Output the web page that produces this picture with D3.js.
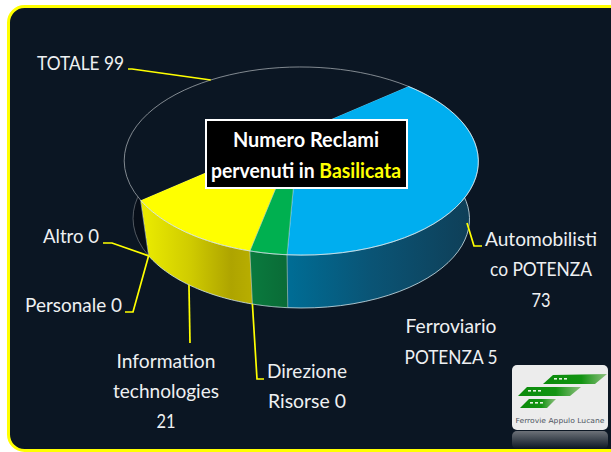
<!DOCTYPE html>
<html><head><meta charset="utf-8">
<script src="https://cdn.jsdelivr.net/npm/d3@7/dist/d3.min.js"></script>
<style>html,body{margin:0;padding:0;background:#fff;overflow:hidden}svg{display:block}text{font-family:Lato,"Open Sans",sans-serif}</style>
</head><body><svg id="c" width="611" height="452"></svg>
<script>
const categories=["Automobilistico POTENZA","Ferroviario POTENZA","Direzione Risorse","Information technologies","Personale","Altro","TOTALE"];
const values=[73,5,0,21,0,0,99];
const topColors=["#00aeef","#00b050","#00b050","#ffff00","#ffff00","#ffff00","#0b1623"];
const wallStops=[
 [["0","#006c94"],["0.45","#0a5475"],["1","#0f3f58"]],
 [["0","#0a7a3e"],["1","#0a6a36"]],
 [["0","#0a7a3e"],["1","#0a6a36"]],
 [["0","#e8e800"],["0.4","#d0cc00"],["0.8","#aea400"],["1","#b8ae00"]],
 [["0","#e8e800"],["1","#e8e800"]],
 [["0","#e8e800"],["1","#e8e800"]],
 [["0","#070e18"],["1","#070e18"]]
];
const START=50*Math.PI/180;
const svg=d3.select("#c"), defs=svg.append("defs");
// perspective disc
const apex={x:298.5,y:133},A=169,B=85.7,Q=0.298,R=0.015,cx=301,S=0.95,DY=59;
const topPt=t=>{const u=Math.sin(t),v=-Math.cos(t),w=1-Q*v-R*u;return [apex.x+A*u/w,apex.y+B*v/w];};
const botPt=t=>{const p=topPt(t);return [cx+(p[0]-cx)*S,apex.y+(p[1]-apex.y)*S+DY];};
const arcs=d3.pie().sort(null).startAngle(START).endAngle(START+2*Math.PI)(values);
const angles=(a,b)=>d3.range(0,41).map(i=>a+(b-a)*i/40);
const line=d3.line();

svg.append("rect").attr("x",8.5).attr("y",6.5).attr("width",640).attr("height",444).attr("rx",16).attr("fill","#0b1623").attr("stroke","#ffff00").attr("stroke-width",3);

// walls
const walls=svg.append("g");
const wallX=[[291,470],[250,291],[250,291],[148,252],[148,252],[148,252],[125,480]];
arcs.forEach((d,i)=>{
 if(d.endAngle-d.startAngle<1e-6)return;
 const id="w"+i;
 const g=defs.append("linearGradient").attr("id",id).attr("gradientUnits","userSpaceOnUse").attr("x1",wallX[i][0]).attr("x2",wallX[i][1]).attr("y1",0).attr("y2",0);
 wallStops[i].forEach(s=>g.append("stop").attr("offset",s[0]).attr("stop-color",s[1]));
 const as=angles(d.startAngle,d.endAngle);
 const pts=as.map(t=>topPt(t)).concat(as.slice().reverse().map(t=>botPt(t)));
 walls.append("path").attr("d",line(pts)+"Z").attr("fill",`url(#${id})`);
 walls.append("path").attr("d",line(as.map(t=>botPt(t)))).attr("fill","none").attr("stroke",i==6?"#8a8f96":"#cfe3ea").attr("stroke-opacity",i==6?.55:.8).attr("stroke-width",1);
 walls.append("path").attr("d",line([topPt(d.startAngle),botPt(d.startAngle)])).attr("stroke","#cfe3ea").attr("stroke-opacity",.55).attr("fill","none");
});
// top faces
const faces=svg.append("g");
arcs.forEach((d,i)=>{
 if(d.endAngle-d.startAngle<1e-6)return;
 const as=angles(d.startAngle,d.endAngle);
 const pts=[[apex.x,apex.y]].concat(as.map(t=>topPt(t)));
 faces.append("path").attr("d",line(pts)+"Z").attr("fill",topColors[i]).attr("stroke",i==6?"none":"#d8ecf2").attr("stroke-opacity",.5).attr("stroke-width",.8);
 faces.append("path").attr("d",line(as.map(t=>topPt(t)))).attr("fill","none").attr("stroke",i==6?"#aab0b6":"#e4f2f6").attr("stroke-opacity",.75).attr("stroke-width",1);
});

// leaders
const mid=d=>(d.startAngle+d.endAngle)/2;
const leaders=[
 {from:topPt(mid(arcs[6])),via:[[132,69],[128,69]]},
 {from:botPt(arcs[5].startAngle),via:[[112,243],[103,243]]},
 {from:botPt(arcs[4].startAngle),via:[[133,312],[125,312]]},
 {from:botPt(mid(arcs[3])),via:[[190,343]]},
 {from:botPt(arcs[2].startAngle),via:[[257,379],[264,379]]},
 {from:[467,223],via:[[474,246],[482,246]]}
];
svg.append("g").selectAll("path").data(leaders).join("path")
 .attr("d",d=>line([d.from].concat(d.via))).attr("fill","none").attr("stroke","#ffff00").attr("stroke-width",1.7);

// labels
const labels=[
 ["TOTALE 99",80.5,70,87],["Altro 0",71,243,56],["Personale 0",73.5,312,97],
 ["Information",166,368,99],["technologies",166,398,106],["21",166,428,19],
 ["Direzione",307,378,80],["Risorse 0",307,408,78],
 ["Automobilisti",541,246,112],["co POTENZA",541,276,102],["73",541,307,19],
 ["Ferroviario",451,333,91],["POTENZA 5",451,364,93]
];
svg.append("g").selectAll("text").data(labels).join("text")
 .attr("x",d=>d[1]).attr("y",d=>d[2]).attr("text-anchor","middle").attr("fill","#eef0f2")
 .attr("font-size",20).attr("textLength",d=>d[3]).attr("lengthAdjust","spacingAndGlyphs").text(d=>d[0]);

// title
svg.append("rect").attr("x",206).attr("y",120).attr("width",201).attr("height",68).attr("fill","#000").attr("stroke","#fff").attr("stroke-width",2);
svg.append("text").attr("x",306).attr("y",147).attr("text-anchor","middle").attr("fill","#fff").attr("font-weight",700).attr("font-size",20).attr("textLength",146).attr("lengthAdjust","spacingAndGlyphs").text("Numero Reclami");
const t2=svg.append("text").attr("x",306).attr("y",178).attr("text-anchor","middle").attr("fill","#fff").attr("font-weight",700).attr("font-size",20).attr("textLength",190).attr("lengthAdjust","spacingAndGlyphs");
t2.append("tspan").text("pervenuti in ");
t2.append("tspan").attr("fill","#ffff00").text("Basilicata");

// logo
const rg=defs.append("linearGradient").attr("id","refl").attr("x1",0).attr("x2",0).attr("y1",0).attr("y2",1);
rg.append("stop").attr("offset",0).attr("stop-color","#8d9095").attr("stop-opacity",.75);
rg.append("stop").attr("offset",1).attr("stop-color","#8d9095").attr("stop-opacity",0);
const gg=defs.append("linearGradient").attr("id","lg").attr("x1",0).attr("x2",1).attr("y1",0).attr("y2",0);
gg.append("stop").attr("offset",0).attr("stop-color","#0b8a0b");
gg.append("stop").attr("offset",.6).attr("stop-color","#129412");
gg.append("stop").attr("offset",1).attr("stop-color","#8fbf7f");
const logo=svg.append("g");
logo.append("rect").attr("x",512).attr("y",431).attr("width",96).attr("height",18).attr("rx",5).attr("fill","url(#refl)");
logo.append("rect").attr("x",512).attr("y",365).attr("width",96).attr("height",65).attr("rx",5).attr("fill","#ececec");
[[[543,384],[553,375],[607,374],[595,384]],[[518,396],[527,387],[581,387],[570,396]],[[520,408],[529,399],[556,399],[547,408]]].forEach(p=>{
 logo.append("path").attr("d",line(p)+"Z").attr("fill","url(#lg)");
 [0,1,2].forEach(k=>logo.append("rect").attr("x",p[1][0]+1+k*5).attr("y",p[1][1]+3).attr("width",3).attr("height",1.6).attr("fill","#e6f3e0"));
});
logo.append("text").attr("x",560).attr("y",423).attr("text-anchor","middle").attr("fill","#4c5560").attr("style","font-family:'DejaVu Sans'").attr("font-size",7).attr("textLength",89).attr("lengthAdjust","spacingAndGlyphs").text("Ferrovie Appulo Lucane");
</script></body></html>
